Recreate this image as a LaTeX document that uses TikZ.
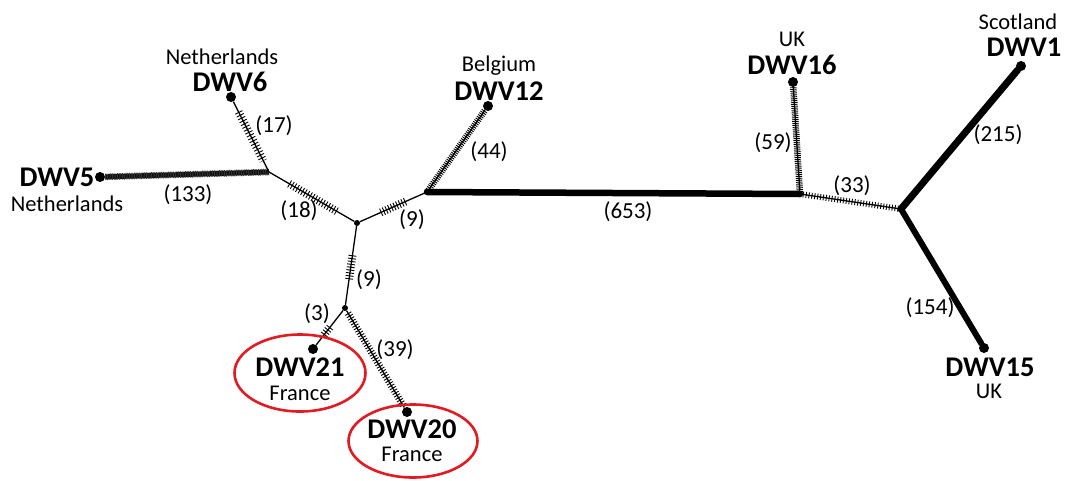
\documentclass[tikz,border=0pt]{standalone}
\usepackage{fontspec}
\setmainfont{Carlito}
\usetikzlibrary{calc,shapes.geometric}
\definecolor{ring}{RGB}{226,27,34}
\begin{document}
\begin{tikzpicture}[x=1pt,y=-1pt,
  leaf/.style={circle,fill,inner sep=0pt,minimum size=10pt},
  junc/.style={circle,fill,inner sep=0pt,minimum size=6pt},
  leafname/.style={font=\fontsize{28.5}{31}\selectfont\bfseries,inner sep=0pt},
  country/.style={font=\fontsize{22.5}{25}\selectfont,inner sep=0pt},
  elabel/.style={font=\fontsize{23}{26}\selectfont,inner sep=0pt},
  fineedge/.style={line width=1.3pt},
  heavy/.style={line width=6.5pt,line cap=round},
  tk/.style={line width=8pt,dash pattern=on 0.9pt off #1},
  oval/.style={ellipse,draw=ring,line width=2.6pt,inner sep=0pt},
]
\useasboundingbox (0,0) rectangle (1066,480);

% leaves and junctions
\node[leaf] (d5)  at (100,177) {};
\node[leaf] (d6)  at (231,97) {};
\node[leaf] (d12) at (488,106) {};
\node[leaf] (d16) at (793,82) {};
\node[leaf] (d1)  at (1021,66) {};
\node[leaf] (d15) at (984,348) {};
\node[leaf] (d21) at (313,349) {};
\node[leaf] (d20) at (407,412) {};
\coordinate (n1) at (269,172);
\node[junc] (n2) at (357,223) {};
\coordinate (n3) at (427,192);
\coordinate (n4) at (800,194);
\coordinate (n5) at (901,209);
\node[junc] (n6) at (345,308) {};

% heavy solid edges
\draw[heavy] (n3) -- (n4);
\draw[heavy,line width=7pt] (n5) -- (d1);
\draw[heavy,line width=6pt] (n5) -- (d15);

% densely hatched edges
\draw[line width=5pt] (d5) -- (n1);
\draw[tk=0.8pt,line width=6.5pt,black!80] (d5) -- (n1);
\draw[fineedge] (n3) -- (d12);
\draw[tk=1.2pt,line width=6.5pt] (n3) -- (d12);
\draw[fineedge] (n4) -- (d16);
\draw[tk=1.0pt,line width=6.5pt] (n4) -- (d16);
\draw[fineedge] (n4) -- (n5);
\draw[tk=2.0pt,line width=6pt] (n4) -- (n5);
\draw[fineedge] (n6) -- (d20);
\draw[tk=1.9pt,line width=7pt] ($(n6)!0.05!(d20)$) -- ($(n6)!0.95!(d20)$);

% thin edges with tick groups
\draw[fineedge] (d6) -- (n1);
\draw[tk=2.3pt] ($(d6)!0.2!(n1)$) -- ($(d6)!0.85!(n1)$);
\draw[fineedge] (n1) -- (n2);
\draw[tk=2.1pt] ($(n1)!0.23!(n2)$) -- ($(n1)!0.77!(n2)$);
\draw[fineedge] (n2) -- (n3);
\draw[tk=2.0pt] ($(n2)!0.34!(n3)$) -- ($(n2)!0.7!(n3)$);
\draw[fineedge] (n2) -- (n6);
\draw[tk=2.0pt] ($(n2)!0.38!(n6)$) -- ($(n2)!0.67!(n6)$);
\draw[fineedge] (n6) -- (d21);
\draw[tk=2.0pt] ($(n6)!0.47!(d21)$) -- ($(n6)!0.68!(d21)$);

% edge labels
\node[elabel] (l17)  at (274,126) {(17)};
\node[elabel] (l133) at (188,195) {(133)};
\node[elabel] (l18)  at (299,211) {(18)};
\node[elabel] (l9a)  at (412,220) {(9)};
\node[elabel] (l44)  at (489,152) {(44)};
\node[elabel] (l653) at (628,212) {(653)};
\node[elabel] (l59)  at (773,143) {(59)};
\node[elabel] (l33)  at (852,186) {(33)};
\node[elabel] (l215) at (998,135) {(215)};
\node[elabel] (l154) at (930,308) {(154)};
\node[elabel] (l9b)  at (369,280) {(9)};
\node[elabel] (l3)   at (317,314) {(3)};
\node[elabel] (l39)  at (395,350) {(39)};

% leaf names and countries
\node[leafname] (t5) at (57,177) {DWV5};
\node[country] (c5) at (67,204) {Netherlands};
\node[country] (c6) at (222,57) {Netherlands};
\node[leafname] (t6) at (230,82) {DWV6};
\node[country] (c12) at (499,66) {Belgium};
\node[leafname] (t12) at (499,91) {DWV12};
\node[country] (c16) at (792,39) {UK};
\node[leafname] (t16) at (792,65) {DWV16};
\node[country] (c1) at (1018,22) {Scotland};
\node[leafname] (t1) at (1024,47) {DWV1};
\node[leafname] (t15) at (990,367) {DWV15};
\node[country] (c15) at (989,391) {UK};
\node[leafname] (t21) at (300,367) {DWV21};
\node[country] (c21) at (300,393) {France};
\node[leafname] (t20) at (412,429) {DWV20};
\node[country] (c20) at (412,454) {France};

% red rings
\node[oval,minimum width=131pt,minimum height=77pt] (e21) at (300,373) {};
\node[oval,minimum width=129pt,minimum height=73pt] (e20) at (413,441) {};
\end{tikzpicture}
\end{document}
